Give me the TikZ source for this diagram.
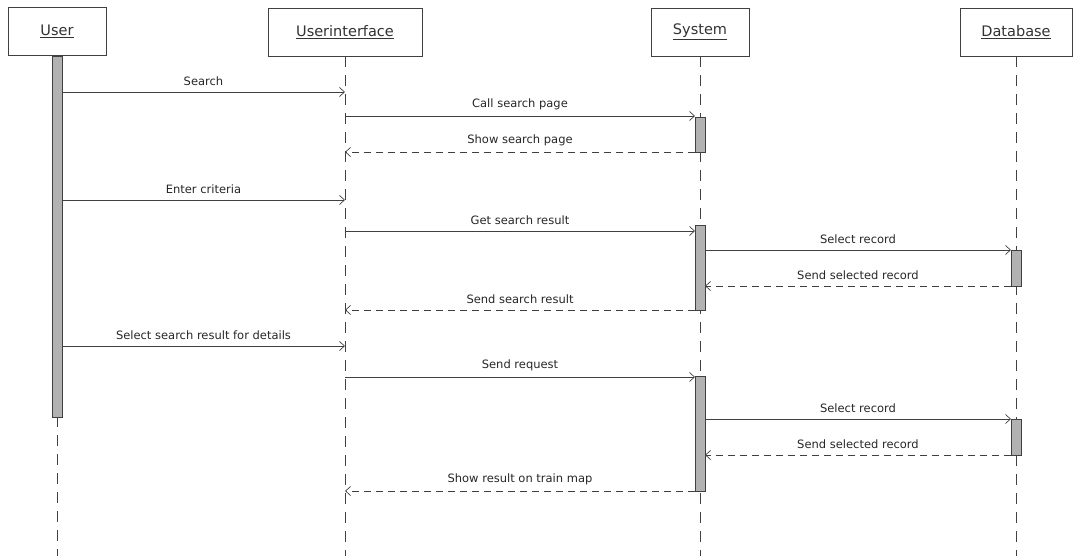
\documentclass[tikz,border=0pt]{standalone}
\usepackage{fontspec}
\setmainfont{DejaVu Sans}
\usetikzlibrary{arrows.meta}
\begin{document}
\begin{tikzpicture}[x=1pt,y=-1pt,
  obj/.style={draw=black!75, line width=0.8pt, fill=white, minimum height=48pt, inner sep=0pt,
              font=\fontsize{14.5}{17}\selectfont, text=black!80},
  life/.style={draw=black!75, line width=0.8pt, dash pattern=on 11pt off 8pt},
  act/.style={draw=black!75, line width=0.8pt, fill=black!30, minimum width=10pt, inner sep=0pt},
  msg/.style={draw=black!75, line width=0.7pt, -{Straight Barb[length=5pt,width=9pt]}},
  ret/.style={msg, dash pattern=on 7pt off 5pt},
  lbl/.style={font=\fontsize{11.5}{13}\selectfont, text=black!85, above=2.5pt, midway}]

% page frame
\path[use as bounding box] (0,0) rectangle (1073,556);

% participants
\node[obj, minimum width=98pt]  (user) at (57,31)   {\underline{User}};
\node[obj, minimum width=154pt] (ui)   at (345,32)  {\underline{Userinterface}};
\node[obj, minimum width=98pt]  (sys)  at (700,32)  {\underline{System}};
\node[obj, minimum width=112pt] (db)   at (1016,32) {\underline{Database}};

% lifeline ends
\coordinate (userEnd) at (57,556);
\coordinate (uiEnd)   at (345,556);
\coordinate (sysEnd)  at (700,556);
\coordinate (dbEnd)   at (1016,556);

\draw[life] (user.south) -- (userEnd);
\draw[life] (ui.south)   -- (uiEnd);
\draw[life] (sys.south)  -- (sysEnd);
\draw[life] (db.south)   -- (dbEnd);

% activation bars
\node[act, minimum height=361pt] (uAct)  at (57,236.5) {};
\node[act, minimum height=35pt]  (sAct1) at (700,134.5) {};
\node[act, minimum height=85pt]  (sAct2) at (700,267.5) {};
\node[act, minimum height=115pt] (sAct3) at (700,433.5) {};
\node[act, minimum height=36pt]  (dAct1) at (1016,268) {};
\node[act, minimum height=36pt]  (dAct2) at (1016,437) {};

% message end points
\coordinate (u1) at (62,92);   \coordinate (i1) at (345,92);
\coordinate (i2) at (345,116); \coordinate (s2) at (695,116);
\coordinate (s3) at (695,152); \coordinate (i3) at (345,152);
\coordinate (u4) at (62,200);  \coordinate (i4) at (345,200);
\coordinate (i5) at (345,231); \coordinate (s5) at (695,231);
\coordinate (s6) at (705,250); \coordinate (d6) at (1011,250);
\coordinate (d7) at (1011,286);\coordinate (s7) at (705,286);
\coordinate (s8) at (695,310); \coordinate (i8) at (345,310);
\coordinate (u9) at (62,346);  \coordinate (i9) at (345,346);
\coordinate (i10) at (345,377);\coordinate (s10) at (695,377);
\coordinate (s11) at (705,419);\coordinate (d11) at (1011,419);
\coordinate (d12) at (1011,455);\coordinate (s12) at (705,455);
\coordinate (s13) at (695,491);\coordinate (i13) at (345,491);

% messages
\draw[msg] (u1) -- (i1) node[lbl] {Search};
\draw[msg] (i2) -- (s2) node[lbl] {Call search page};
\draw[ret] (s3) -- (i3) node[lbl] {Show search page};
\draw[msg] (u4) -- (i4) node[lbl] {Enter criteria};
\draw[msg] (i5) -- (s5) node[lbl] {Get search result};
\draw[msg] (s6) -- (d6) node[lbl] {Select record};
\draw[ret] (d7) -- (s7) node[lbl] {Send selected record};
\draw[ret] (s8) -- (i8) node[lbl] {Send search result};
\draw[msg] (u9) -- (i9) node[lbl] {Select search result for details};
\draw[msg] (i10) -- (s10) node[lbl] {Send request};
\draw[msg] (s11) -- (d11) node[lbl] {Select record};
\draw[ret] (d12) -- (s12) node[lbl] {Send selected record};
\draw[ret] (s13) -- (i13) node[lbl] {Show result on train map};

\end{tikzpicture}
\end{document}
